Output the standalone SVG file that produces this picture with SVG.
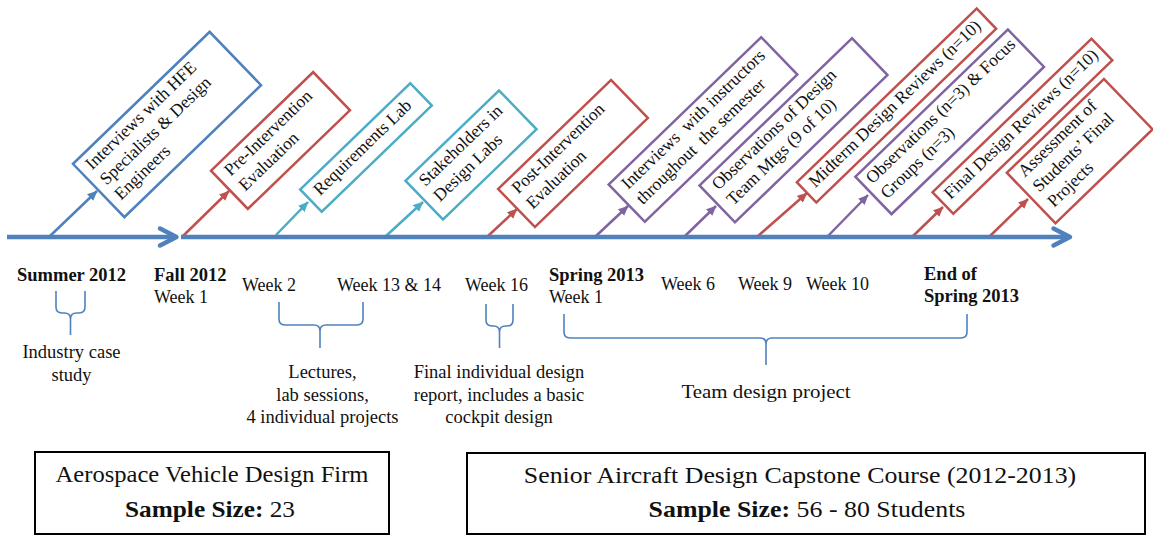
<svg xmlns="http://www.w3.org/2000/svg" width="1153" height="536" viewBox="0 0 1153 536">
<style>
.b{fill:#fff;stroke-width:2.5}
.blue{stroke:#4F81BD}.red{stroke:#C0504D}.teal{stroke:#4BACC6}.purple{stroke:#8064A2}
.bt{font-family:"Liberation Serif","Times New Roman",serif;font-size:17.5px;fill:#111}
.lb{font-family:"Liberation Serif","Times New Roman",serif;font-size:18px;fill:#111}
.lc{font-family:"Liberation Serif","Times New Roman",serif;font-size:18.5px;fill:#111;text-anchor:middle}
.bd{font-weight:bold;font-size:18.5px}
.big{font-family:"Liberation Serif","Times New Roman",serif;font-size:23px;fill:#111;text-anchor:middle}
.brace{fill:none;stroke:#4F81BD;stroke-width:1.6}
.tl{fill:none;stroke:#4F81BD;stroke-width:4.5}
.ar{fill:none;stroke-width:2.5}
.frame{fill:#fff;stroke:#000;stroke-width:2}
</style>
<defs>
<marker id="mBlue" markerUnits="userSpaceOnUse" markerWidth="11" markerHeight="10" refX="9.5" refY="4.5" orient="auto"><path d="M0,0 L10,4.5 L0,9 z" fill="#4F81BD"/></marker>
<marker id="mRed" markerUnits="userSpaceOnUse" markerWidth="11" markerHeight="10" refX="9.5" refY="4.5" orient="auto"><path d="M0,0 L10,4.5 L0,9 z" fill="#C0504D"/></marker>
<marker id="mTeal" markerUnits="userSpaceOnUse" markerWidth="11" markerHeight="10" refX="9.5" refY="4.5" orient="auto"><path d="M0,0 L10,4.5 L0,9 z" fill="#4BACC6"/></marker>
<marker id="mPurple" markerUnits="userSpaceOnUse" markerWidth="11" markerHeight="10" refX="9.5" refY="4.5" orient="auto"><path d="M0,0 L10,4.5 L0,9 z" fill="#8064A2"/></marker>
</defs>
<rect width="1153" height="536" fill="#fff"/>

<g id="connectors">
<line class="ar" stroke="#4F81BD" x1="50" y1="236" x2="97" y2="191" marker-end="url(#mBlue)"/>
<line class="ar" stroke="#C0504D" x1="183" y1="236" x2="229" y2="191" marker-end="url(#mRed)"/>
<line class="ar" stroke="#4BACC6" x1="276" y1="235" x2="308" y2="202" marker-end="url(#mTeal)"/>
<line class="ar" stroke="#4BACC6" x1="386" y1="236" x2="423" y2="202" marker-end="url(#mTeal)"/>
<line class="ar" stroke="#C0504D" x1="488" y1="236" x2="517" y2="209" marker-end="url(#mRed)"/>
<line class="ar" stroke="#8064A2" x1="596" y1="236" x2="628" y2="206" marker-end="url(#mPurple)"/>
<line class="ar" stroke="#8064A2" x1="685" y1="236" x2="716" y2="206" marker-end="url(#mPurple)"/>
<line class="ar" stroke="#C0504D" x1="758" y1="236" x2="807" y2="193" marker-end="url(#mRed)"/>
<line class="ar" stroke="#8064A2" x1="827" y1="237" x2="868" y2="195" marker-end="url(#mPurple)"/>
<line class="ar" stroke="#C0504D" x1="912" y1="237" x2="943" y2="207" marker-end="url(#mRed)"/>
<line class="ar" stroke="#C0504D" x1="989" y1="237" x2="1028" y2="199" marker-end="url(#mRed)"/>
</g>

<g id="timeline">
<line class="tl" x1="7" y1="237" x2="174" y2="237"/>
<polyline class="tl" points="160,228.5 176.5,237 160,245.5" stroke-linejoin="round" stroke-linecap="round"/>
<line class="tl" x1="181" y1="237" x2="1068" y2="237"/>
<polyline class="tl" points="1053.5,228.5 1070,237 1053.5,245.5" stroke-linejoin="round" stroke-linecap="round"/>
</g>

<g id="n1" transform="translate(167,124.5) rotate(-44)">
<rect class="b blue" x="-95" y="-37" width="190" height="74"/>
<text class="bt"><tspan x="-86" y="-19">Interviews with HFE</tspan><tspan x="-86" y="2">Specialists &amp; Design</tspan><tspan x="-86" y="23">Engineers</tspan></text>
</g>
<g id="n2" transform="translate(280.5,140.5) rotate(-44)">
<rect class="b red" x="-71" y="-26.5" width="142" height="53"/>
<text class="bt"><tspan x="-61" y="-8.5">Pre-Intervention</tspan><tspan x="-61" y="12.5">Evaluation</tspan></text>
</g>
<g id="n3" transform="translate(366,147.5) rotate(-44)">
<rect class="b teal" x="-76.5" y="-15.5" width="153" height="31"/>
<text class="bt"><tspan x="-67" y="3">Requirements Lab</tspan></text>
</g>
<g id="n4" transform="translate(471,155) rotate(-44)">
<rect class="b teal" x="-65" y="-27" width="130" height="54"/>
<text class="bt"><tspan x="-55" y="-8.5">Stakeholders in</tspan><tspan x="-55" y="12.5">Design Labs</tspan></text>
</g>
<g id="n5" transform="translate(573,153.5) rotate(-44)">
<rect class="b red" x="-78.5" y="-26.5" width="157" height="53"/>
<text class="bt"><tspan x="-68" y="-8.5">Post-Intervention</tspan><tspan x="-68" y="12.5">Evaluation</tspan></text>
</g>
<g id="n6" transform="translate(703,129.5) rotate(-44)">
<rect class="b purple" x="-106" y="-26" width="212" height="52"/>
<text class="bt" xml:space="preserve"><tspan x="-96" y="-8.5">Interviews  with instructors</tspan><tspan x="-96" y="12.5">throughout  the semester</tspan></text>
</g>
<g id="n7" transform="translate(793.5,130.3) rotate(-44)">
<rect class="b purple" x="-106" y="-25.5" width="212" height="51"/>
<text class="bt"><tspan x="-96" y="-8.5">Observations of Design</tspan><tspan x="-96" y="12.5">Team Mtgs (9 of 10)</tspan></text>
</g>
<g id="n8" transform="translate(896.5,105.5) rotate(-44)">
<rect class="b red" x="-125" y="-14" width="250" height="28"/>
<text class="bt"><tspan x="-116" y="3">Midterm Design Reviews (n=10)</tspan></text>
</g>
<g id="n9" transform="translate(949.7,121.8) rotate(-44)">
<rect class="b purple" x="-106" y="-26" width="212" height="52"/>
<text class="bt"><tspan x="-99" y="-8.5">Observations (n=3) &amp; Focus</tspan><tspan x="-99" y="12.5">Groups (n=3)</tspan></text>
</g>
<g id="n10" transform="translate(1022.4,126.2) rotate(-44)">
<rect class="b red" x="-110.5" y="-15" width="221" height="30"/>
<text class="bt"><tspan x="-103" y="3">Final Design Reviews (n=10)</tspan></text>
</g>
<g id="n11" transform="translate(1079.7,151.1) rotate(-44)">
<rect class="b red" x="-67.5" y="-35" width="135" height="70"/>
<text class="bt"><tspan x="-58" y="-19">Assessment of</tspan><tspan x="-58" y="2">Students’ Final</tspan><tspan x="-58" y="23">Projects</tspan></text>
</g>

<g id="labels">
<text class="lb bd" x="17" y="281">Summer 2012</text>
<text class="lb bd" x="154" y="281">Fall 2012</text>
<text class="lb" x="154" y="302.5">Week 1</text>
<text class="lb" x="242" y="291">Week 2</text>
<text class="lb" x="337" y="291">Week 13 &amp; 14</text>
<text class="lb" x="465" y="291">Week 16</text>
<text class="lb bd" x="549" y="281">Spring 2013</text>
<text class="lb" x="549" y="302.5">Week 1</text>
<text class="lb" x="661" y="290">Week 6</text>
<text class="lb" x="738" y="290">Week 9</text>
<text class="lb" x="806" y="290">Week 10</text>
<text class="lb bd" x="924" y="280">End of</text>
<text class="lb bd" x="924" y="301.5">Spring 2013</text>
</g>

<g id="braces">
<path class="brace" d="M56,291 V307 Q56,313 62,313 H64.5 Q70.5,313 70.5,319 V335 M85,291 V307 Q85,313 79,313 H76.5 Q70.5,313 70.5,319"/>
<path class="brace" d="M279,302 V319 Q279,325 285,325 H314 Q320,325 320,331 V348 M363,302 V319 Q363,325 357,325 H326 Q320,325 320,331"/>
<path class="brace" d="M486,304 V320 Q486,326 492,326 H493.5 Q499.5,326 499.5,332 V348 M513,304 V320 Q513,326 507,326 H505.5 Q499.5,326 499.5,332"/>
<path class="brace" d="M564,314 V332 Q564,338 570,338 H760 Q766,338 766,344 V365 M967,314 V332 Q967,338 961,338 H772 Q766,338 766,344"/>
</g>

<g id="notes">
<text class="lc"><tspan x="71.5" y="358.3">Industry case</tspan><tspan x="71.5" y="381">study</tspan></text>
<text class="lc"><tspan x="322.5" y="378.3">Lectures,</tspan><tspan x="322.5" y="400.7">lab sessions,</tspan><tspan x="322.5" y="422.7">4 individual projects</tspan></text>
<text class="lc"><tspan x="499" y="378.3">Final individual design</tspan><tspan x="499" y="400.7">report, includes a basic</tspan><tspan x="499" y="422.7">cockpit design</tspan></text>
<text class="lc" transform="translate(766,398) scale(1.1,1)" x="0" y="0" style="font-size:19px">Team design project</text>
</g>

<g id="firm">
<rect class="frame" x="35" y="452" width="354" height="82"/>
<text class="big" transform="translate(212,482) scale(1.07,1)">Aerospace Vehicle Design Firm</text>
<text class="big" transform="translate(210,517) scale(1.1,1)"><tspan font-weight="bold">Sample Size:</tspan> 23</text>
</g>
<g id="course">
<rect class="frame" x="467" y="453" width="678" height="81"/>
<text class="big" transform="translate(800,483) scale(1.125,1)">Senior Aircraft Design Capstone Course (2012-2013)</text>
<text class="big" transform="translate(807,517) scale(1.125,1)"><tspan font-weight="bold">Sample Size:</tspan> 56 - 80 Students</text>
</g>
</svg>
